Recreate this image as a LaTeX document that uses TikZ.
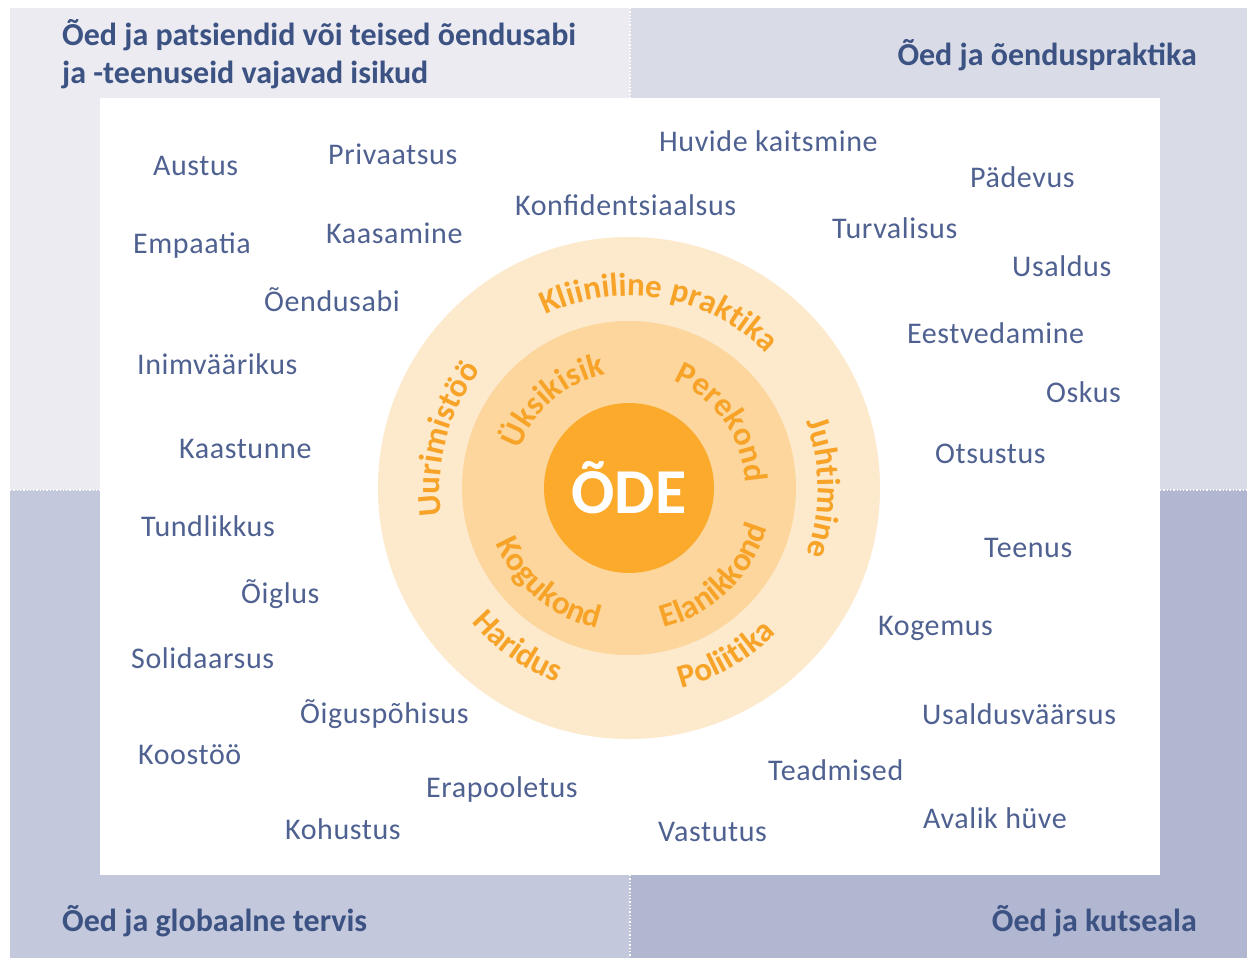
\documentclass[tikz,border=0pt]{standalone}
\usepackage{fontspec}
\setmainfont{Carlito}
\newfontfamily\wordfamily[LetterSpace=2]{Carlito}
\newfontfamily\ringfamily[LetterSpace=2]{Carlito}
\usetikzlibrary{decorations.text}

\definecolor{quadTL}{HTML}{EBEBF1}
\definecolor{quadTR}{HTML}{D9DBE6}
\definecolor{quadBL}{HTML}{C3C8DC}
\definecolor{quadBR}{HTML}{B1B6D1}
\definecolor{headblue}{HTML}{3B5283}
\definecolor{wordblue}{HTML}{4F6191}
\definecolor{ringout}{HTML}{FDE9CB}
\definecolor{ringmid}{HTML}{FCD69C}
\definecolor{ringcore}{HTML}{FBAA2C}
\definecolor{ringtext}{HTML}{F7A328}

\newcommand{\ringfont}{\ringfamily\bfseries\fontsize{33}{36}\selectfont\color{ringtext}}

\tikzset{
  word/.style={anchor=base west, inner sep=0pt, text=wordblue, font=\wordfamily\fontsize{30}{34}\selectfont},
  heading/.style={inner sep=0pt, text=headblue, font=\bfseries\fontsize{32}{38}\selectfont},
  divider/.style={white, dotted, line width=1.3pt},
  ringlabel/.style={decorate, decoration={text along path, text align=center, text format delimiters={|}{|}}}
}

\begin{document}
\begin{tikzpicture}[x=1pt,y=-1pt]
  \useasboundingbox (0,0) rectangle (1247,958);

  % quadrants
  \fill[quadTL] (10,8) rectangle (630,490);
  \fill[quadTR] (630,8) rectangle (1247,490);
  \fill[quadBL] (10,490) rectangle (630,958);
  \fill[quadBR] (630,490) rectangle (1247,958);
  \draw[divider] (630,8) -- (630,98);
  \draw[divider] (630,875) -- (630,958);
  \draw[divider] (10,490) -- (100,490);
  \draw[divider] (1160,490) -- (1247,490);
  \fill[white] (100,98) rectangle (1160,875);

  % headings
  \node[heading, anchor=base west] (hpat1) at (62,46) {Õed ja patsiendid või teised õendusabi};
  \node[heading, anchor=base west] (hpat2) at (62,84) {ja -teenuseid vajavad isikud};
  \node[heading, anchor=base east] (hprak) at (1197,66) {Õed ja õenduspraktika};
  \node[heading, anchor=base west] (hglob) at (62,931) {Õed ja globaalne tervis};
  \node[heading, anchor=base east] (hkuts) at (1197,931) {Õed ja kutseala};

  % rings
  \coordinate (ode) at (629,488);
  \fill[ringout] (ode) circle[radius=251];
  \fill[ringmid] (ode) circle[radius=167];
  \fill[ringcore] (ode) circle[radius=85];
  \node[text=white, font=\bfseries\fontsize{64}{70}\selectfont] (odetext) at (ode) {ÕDE};

  \begin{scope}[shift={(ode)}]
    \path[ringlabel, decoration={text={|\ringfont|Kliiniline praktika}}]
      (-150:192) arc[start angle=-150, end angle=-10, radius=192];
    \path[ringlabel, decoration={text={|\ringfont|Juhtimine}}]
      (-40:189) arc[start angle=-40, end angle=40, radius=189];
    \path[ringlabel, decoration={text={|\ringfont|Uurimistöö}}]
      (-200:189) arc[start angle=-200, end angle=-130, radius=189];
    \path[ringlabel, decoration={text={|\ringfont|Haridus}}]
      (-200:207) arc[start angle=-200, end angle=-270, radius=207];
    \path[ringlabel, decoration={text={|\ringfont|Poliitika}}]
      (-270:207) arc[start angle=-270, end angle=-330, radius=207];
    \path[ringlabel, decoration={text={|\ringfont|Üksikisik}}]
      (-175:116) arc[start angle=-175, end angle=-87, radius=116];
    \path[ringlabel, decoration={text={|\ringfont|Perekond}}]
      (-80:116) arc[start angle=-80, end angle=10, radius=116];
    \path[ringlabel, decoration={text={|\ringfont|Kogukond}}]
      (-190:144) arc[start angle=-190, end angle=-270, radius=144];
    \path[ringlabel, decoration={text={|\ringfont|Elanikkond}}]
      (-274:144) arc[start angle=-274, end angle=-354, radius=144];
  \end{scope}

  % values
  \node[word] (austus) at (153,175) {Austus};
  \node[word] (privaatsus) at (328,164) {Privaatsus};
  \node[word] (huvide) at (659,151) {Huvide kaitsmine};
  \node[word] (padevus) at (970,187) {Pädevus};
  \node[word] (konfid) at (515,215) {Konfidentsiaalsus};
  \node[word] (empaatia) at (133,253) {Empaatia};
  \node[word] (kaasamine) at (326,243) {Kaasamine};
  \node[word] (turvalisus) at (832,238) {Turvalisus};
  \node[word] (usaldus) at (1012,276) {Usaldus};
  \node[word] (oendusabi) at (264,311) {Õendusabi};
  \node[word] (eestved) at (907,343) {Eestvedamine};
  \node[word] (inimvaar) at (137,374) {Inimväärikus};
  \node[word] (oskus) at (1046,402) {Oskus};
  \node[word] (kaastunne) at (179,458) {Kaastunne};
  \node[word] (otsustus) at (935,463) {Otsustus};
  \node[word] (tundlik) at (141,536) {Tundlikkus};
  \node[word] (teenus) at (984,557) {Teenus};
  \node[word] (oiglus) at (241,603) {Õiglus};
  \node[word] (kogemus) at (878,635) {Kogemus};
  \node[word] (solidaar) at (131,668) {Solidaarsus};
  \node[word] (oigusp) at (300,723) {Õiguspõhisus};
  \node[word] (usaldusv) at (922,724) {Usaldusväärsus};
  \node[word] (koostoo) at (138,764) {Koostöö};
  \node[word] (teadmised) at (768,780) {Teadmised};
  \node[word] (erapool) at (426,797) {Erapooletus};
  \node[word] (kohustus) at (285,839) {Kohustus};
  \node[word] (avalik) at (923,828) {Avalik hüve};
  \node[word] (vastutus) at (658,841) {Vastutus};
\end{tikzpicture}
\end{document}
